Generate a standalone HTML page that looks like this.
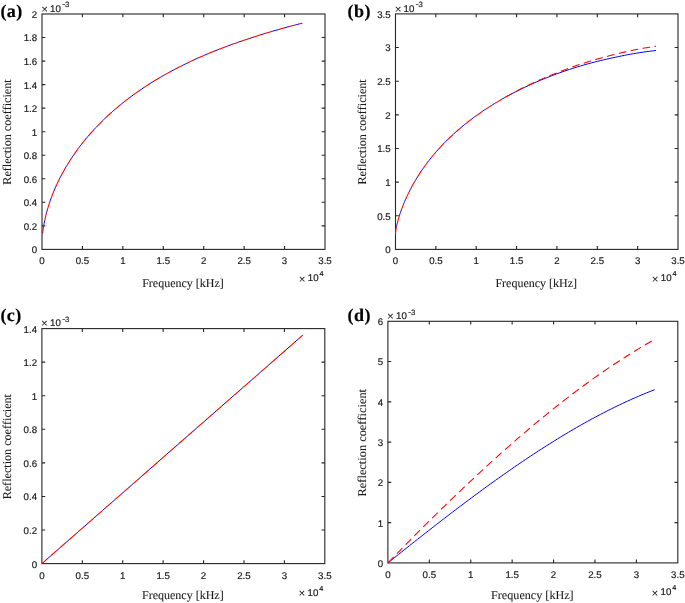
<!DOCTYPE html>
<html><head><meta charset="utf-8"><style>
html,body{margin:0;padding:0;background:#fff;width:685px;height:603px;overflow:hidden}
svg{display:block;will-change:transform}
text{text-rendering:geometricPrecision}
.ax{fill:none;stroke:#262626;stroke-width:1.1}
.bl{fill:none;stroke:#0000ff;stroke-width:1.0}
.rd{fill:none;stroke:#ff0000;stroke-width:1.05}
.tl,.tm,.ts,.t4,.tsm{font-family:"Liberation Sans",sans-serif;font-kerning:none;fill:#1e1e1e;stroke:#1e1e1e;stroke-width:0.2}
.tl{font-size:9.7px}
.tm{font-size:11.64px;fill:#2a2a2a;stroke:none}
.ts{font-size:7.76px}
.t4{font-size:7.275px}
.tsm{font-size:10px;stroke-width:0.1}
.al{font-family:"Liberation Serif",serif;font-kerning:none;font-size:12px;fill:#1a1a1a;stroke:#1a1a1a;stroke-width:0.08}
.tg{font-family:"Liberation Serif",serif;font-kerning:none;font-weight:bold;font-size:18px;letter-spacing:0.45px;fill:#000;stroke:#000;stroke-width:0.2}
</style></head><body>
<svg width="685" height="603" viewBox="0 0 685 603">
<g><path class="ax" d="M82.43 249.4v-3.3M82.43 14v3.3M122.86 249.4v-3.3M122.86 14v3.3M163.29 249.4v-3.3M163.29 14v3.3M203.71 249.4v-3.3M203.71 14v3.3M244.14 249.4v-3.3M244.14 14v3.3M284.57 249.4v-3.3M284.57 14v3.3M42 225.86h3.3M325 225.86h-3.3M42 202.32h3.3M325 202.32h-3.3M42 178.78h3.3M325 178.78h-3.3M42 155.24h3.3M325 155.24h-3.3M42 131.7h3.3M325 131.7h-3.3M42 108.16h3.3M325 108.16h-3.3M42 84.62h3.3M325 84.62h-3.3M42 61.08h3.3M325 61.08h-3.3M42 37.54h3.3M325 37.54h-3.3"/>
<rect class="ax" x="42" y="14" width="283" height="235.4"/>
<path class="bl" stroke-dasharray="5.05 7.1" stroke-dashoffset="-8" d="M42.6 233.3 L42.76 231.89 L42.94 230.49 L43.13 229.08 L43.35 227.67 L43.58 226.27 L43.83 224.86 L44.11 223.46 L44.39 222.06 L44.7 220.61 L45.03 219.07 L45.38 217.52 L45.74 215.96 L46.12 214.4 L46.52 212.83 L46.95 211.27 L47.38 209.69 L47.84 208.11 L48.32 206.53 L48.81 204.94 L49.33 203.36 L49.86 201.76 L50.41 200.17 L50.98 198.57 L51.57 196.97 L52.18 195.37 L52.8 193.77 L53.45 192.16 L54.11 190.56 L54.79 188.95 L55.49 187.34 L56.21 185.73 L56.95 184.12 L57.7 182.51 L58.48 180.9 L59.27 179.29 L60.08 177.68 L60.92 176.08 L61.77 174.47 L62.63 172.86 L63.52 171.26 L64.43 169.65 L65.35 168.05 L66.29 166.45 L67.26 164.85 L68.24 163.25 L69.23 161.66 L70.25 160.07 L71.29 158.48 L72.34 156.89 L73.42 155.31 L74.51 153.73 L75.62 152.15 L76.75 150.58 L77.9 149.01 L79.07 147.45 L80.25 145.88 L81.46 144.33 L82.68 142.77 L83.92 141.22 L85.18 139.68 L86.46 138.14 L87.76 136.61 L89.07 135.08 L90.41 133.55 L91.76 132.03 L93.14 130.52 L94.53 129.01 L95.94 127.51 L97.36 126.01 L98.81 124.52 L100.28 123.04 L101.76 121.56 L103.26 120.09 L104.79 118.62 L106.33 117.16 L107.89 115.71 L109.46 114.26 L111.06 112.82 L112.67 111.39 L114.31 109.96 L115.96 108.54 L117.63 107.13 L119.32 105.72 L121.03 104.33 L122.76 102.94 L124.5 101.55 L126.27 100.18 L128.05 98.81 L129.85 97.45 L131.67 96.1 L133.51 94.75 L135.37 93.42 L137.25 92.09 L139.14 90.77 L141.05 89.46 L142.99 88.15 L144.94 86.86 L146.91 85.57 L148.9 84.29 L150.9 83.02 L152.93 81.76 L154.97 80.5 L157.04 79.26 L159.12 78.02 L161.22 76.79 L163.34 75.57 L165.47 74.36 L167.63 73.16 L169.81 71.96 L172 70.78 L174.21 69.6 L176.44 68.44 L178.69 67.28 L180.96 66.13 L183.25 64.99 L185.55 63.86 L187.88 62.74 L190.22 61.62 L192.58 60.52 L194.96 59.42 L197.36 58.34 L199.78 57.26 L202.22 56.19 L204.67 55.13 L207.15 54.08 L209.64 53.04 L212.15 52.01 L214.68 50.99 L217.23 49.98 L219.79 48.97 L222.38 47.98 L224.98 46.99 L227.61 46.02 L230.25 45.05 L232.91 44.09 L235.59 43.14 L238.29 42.2 L241 41.27 L243.74 40.35 L246.49 39.43 L249.26 38.53 L252.06 37.61 L254.87 36.69 L257.69 35.78 L260.54 34.87 L263.41 33.98 L266.29 33.09 L269.19 32.22 L272.12 31.35 L275.06 30.49 L278.02 29.64 L280.99 28.8 L283.99 27.96 L287 27.14 L290.04 26.32 L293.09 25.51 L296.16 24.71 L299.25 23.92 L302.36 23.14"/>
<path class="rd" stroke-dasharray="7.7 4.45" stroke-dashoffset="-0.6" d="M42.6 233.3 L42.76 231.89 L42.94 230.49 L43.13 229.08 L43.35 227.67 L43.58 226.27 L43.83 224.86 L44.11 223.46 L44.39 222.06 L44.7 220.61 L45.03 219.07 L45.38 217.52 L45.74 215.96 L46.12 214.4 L46.52 212.83 L46.95 211.27 L47.38 209.69 L47.84 208.11 L48.32 206.53 L48.81 204.94 L49.33 203.36 L49.86 201.76 L50.41 200.17 L50.98 198.57 L51.57 196.97 L52.18 195.37 L52.8 193.77 L53.45 192.16 L54.11 190.56 L54.79 188.95 L55.49 187.34 L56.21 185.73 L56.95 184.12 L57.7 182.51 L58.48 180.9 L59.27 179.29 L60.08 177.68 L60.92 176.08 L61.77 174.47 L62.63 172.86 L63.52 171.26 L64.43 169.65 L65.35 168.05 L66.29 166.45 L67.26 164.85 L68.24 163.25 L69.23 161.66 L70.25 160.07 L71.29 158.48 L72.34 156.89 L73.42 155.31 L74.51 153.73 L75.62 152.15 L76.75 150.58 L77.9 149.01 L79.07 147.45 L80.25 145.88 L81.46 144.33 L82.68 142.77 L83.92 141.22 L85.18 139.68 L86.46 138.14 L87.76 136.61 L89.07 135.08 L90.41 133.55 L91.76 132.03 L93.14 130.52 L94.53 129.01 L95.94 127.51 L97.36 126.01 L98.81 124.52 L100.28 123.04 L101.76 121.56 L103.26 120.09 L104.79 118.62 L106.33 117.16 L107.89 115.71 L109.46 114.26 L111.06 112.82 L112.67 111.39 L114.31 109.96 L115.96 108.54 L117.63 107.13 L119.32 105.72 L121.03 104.33 L122.76 102.94 L124.5 101.55 L126.27 100.18 L128.05 98.81 L129.85 97.45 L131.67 96.1 L133.51 94.75 L135.37 93.42 L137.25 92.09 L139.14 90.77 L141.05 89.46 L142.99 88.15 L144.94 86.86 L146.91 85.57 L148.9 84.29 L150.9 83.02 L152.93 81.76 L154.97 80.5 L157.04 79.26 L159.12 78.02 L161.22 76.79 L163.34 75.57 L165.47 74.36 L167.63 73.16 L169.81 71.96 L172 70.78 L174.21 69.6 L176.44 68.44 L178.69 67.28 L180.96 66.13 L183.25 64.99 L185.55 63.86 L187.88 62.74 L190.22 61.62 L192.58 60.52 L194.96 59.42 L197.36 58.34 L199.78 57.26 L202.22 56.19 L204.67 55.13 L207.15 54.08 L209.64 53.04 L212.15 52.01 L214.68 50.99 L217.23 49.98 L219.79 48.97 L222.38 47.98 L224.98 46.99 L227.61 46.02 L230.25 45.05 L232.91 44.09 L235.59 43.14 L238.29 42.2 L241 41.27 L243.74 40.35 L246.49 39.43 L249.26 38.53 L252.06 37.61 L254.87 36.69 L257.69 35.78 L260.54 34.87 L263.41 33.98 L266.29 33.09 L269.19 32.22 L272.12 31.35 L275.06 30.49 L278.02 29.64 L280.99 28.8 L283.99 27.96 L287 27.14 L290.04 26.32 L293.09 25.51 L296.16 24.71 L299.25 23.92 L302.36 23.14"/>
<text class="tl" x="42" y="263.9" text-anchor="middle">0</text>
<text class="tl" x="82.43" y="263.9" text-anchor="middle">0.5</text>
<text class="tl" x="122.86" y="263.9" text-anchor="middle">1</text>
<text class="tl" x="163.29" y="263.9" text-anchor="middle">1.5</text>
<text class="tl" x="203.71" y="263.9" text-anchor="middle">2</text>
<text class="tl" x="244.14" y="263.9" text-anchor="middle">2.5</text>
<text class="tl" x="284.57" y="263.9" text-anchor="middle">3</text>
<text class="tl" x="325" y="263.9" text-anchor="middle">3.5</text>
<text class="tl" x="37.15" y="253.3" text-anchor="end">0</text>
<text class="tl" x="37.15" y="229.76" text-anchor="end">0.2</text>
<text class="tl" x="37.15" y="206.22" text-anchor="end">0.4</text>
<text class="tl" x="37.15" y="182.68" text-anchor="end">0.6</text>
<text class="tl" x="37.15" y="159.14" text-anchor="end">0.8</text>
<text class="tl" x="37.15" y="135.6" text-anchor="end">1</text>
<text class="tl" x="37.15" y="112.06" text-anchor="end">1.2</text>
<text class="tl" x="37.15" y="88.52" text-anchor="end">1.4</text>
<text class="tl" x="37.15" y="64.98" text-anchor="end">1.6</text>
<text class="tl" x="37.15" y="41.44" text-anchor="end">1.8</text>
<text class="tl" x="37.15" y="17.9" text-anchor="end">2</text>
<text class="tm" x="41.15" y="12.7">&#215;</text>
<text class="tl" x="50.1" y="11.8">10</text>
<text class="tsm" x="62.06" y="7.46">-</text>
<text class="ts" x="65.05" y="7.2">3</text>
<text class="tm" x="298.8" y="282.6">&#215;</text>
<text class="tl" x="307.8" y="281.4">10</text>
<text class="t4" x="319.45" y="276.2">4</text>
<text class="al" x="183" y="287.3" text-anchor="middle">Frequency [kHz]</text>
<text class="al" text-anchor="middle" transform="translate(10.9 132) rotate(-90) scale(1.01 1)">Reflection coefficient</text>
<text class="tg" x="0.4" y="16.9">(a)</text></g>
<g><path class="ax" d="M435.86 249.4v-3.3M435.86 13.9v3.3M476.21 249.4v-3.3M476.21 13.9v3.3M516.57 249.4v-3.3M516.57 13.9v3.3M556.93 249.4v-3.3M556.93 13.9v3.3M597.29 249.4v-3.3M597.29 13.9v3.3M637.64 249.4v-3.3M637.64 13.9v3.3M395.5 215.76h3.3M678 215.76h-3.3M395.5 182.11h3.3M678 182.11h-3.3M395.5 148.47h3.3M678 148.47h-3.3M395.5 114.83h3.3M678 114.83h-3.3M395.5 81.19h3.3M678 81.19h-3.3M395.5 47.54h3.3M678 47.54h-3.3"/>
<rect class="ax" x="395.5" y="13.9" width="282.5" height="235.5"/>
<path class="bl" stroke-dasharray="5.05 7.1" stroke-dashoffset="-7.7" d="M395.5 234.5 L395.51 233.81 L395.54 233.08 L395.59 232.33 L395.66 231.54 L395.76 230.73 L395.87 229.89 L396 229.02 L396.16 228.13 L396.33 227.22 L396.53 226.29 L396.75 225.34 L396.98 224.36 L397.24 223.37 L397.52 222.36 L397.82 221.18 L398.14 219.99 L398.48 218.77 L398.84 217.53 L399.22 216.26 L399.62 214.98 L400.04 213.68 L400.49 212.36 L400.95 211.02 L401.44 209.67 L401.94 208.3 L402.47 206.91 L403.01 205.51 L403.58 204.1 L404.17 202.68 L404.78 201.24 L405.4 199.8 L406.05 198.34 L406.72 196.88 L407.41 195.4 L408.12 193.92 L408.86 192.44 L409.61 190.94 L410.38 189.44 L411.18 187.94 L411.99 186.43 L412.82 184.91 L413.68 183.4 L414.56 181.88 L415.45 180.35 L416.37 178.83 L417.31 177.3 L418.27 175.78 L419.24 174.25 L420.24 172.72 L421.26 171.2 L422.31 169.67 L423.37 168.14 L424.45 166.62 L425.55 165.1 L426.68 163.58 L427.82 162.06 L428.98 160.55 L430.17 159.04 L431.38 157.53 L432.6 156.03 L433.85 154.53 L435.12 153.03 L436.4 151.54 L437.71 150.05 L439.04 148.57 L440.39 147.1 L441.76 145.63 L443.15 144.16 L444.57 142.7 L446 141.25 L447.45 139.8 L448.93 138.36 L450.42 136.93 L451.94 135.5 L453.47 134.08 L455.03 132.67 L456.6 131.26 L458.2 129.86 L459.82 128.47 L461.46 127.09 L463.12 125.71 L464.8 124.34 L466.5 122.98 L468.22 121.62 L469.96 120.28 L471.72 118.94 L473.51 117.61 L475.31 116.29 L477.13 114.98 L478.98 113.67 L480.84 112.38 L482.73 111.09 L484.64 109.81 L486.56 108.54 L488.51 107.28 L490.48 106.03 L492.47 104.78 L494.48 103.55 L496.51 102.32 L498.56 101.1 L500.63 99.9 L502.72 98.7 L504.84 97.51 L506.97 96.33"/>
<path class="bl" d="M506.97 96.33 L509.12 95.16 L511.3 94 L513.49 92.85 L515.71 91.71 L517.95 90.58 L520.2 89.46 L522.48 88.35 L524.78 87.25 L527.1 86.16 L529.44 85.08 L531.8 84.01 L534.18 82.95 L536.58 81.9 L539 80.87 L541.44 79.84 L543.91 78.83 L546.39 77.83 L548.89 76.84 L551.42 75.86 L553.96 74.89 L556.53 73.94 L559.12 73 L561.73 72.07 L564.35 71.16 L567 70.26 L569.67 69.37 L572.36 68.5 L575.07 67.64 L577.8 66.79 L580.55 65.96 L583.33 65.15 L586.12 64.35 L588.93 63.57 L591.77 62.8 L594.62 62.05 L597.5 61.32 L600.39 60.61 L603.31 59.91 L606.25 59.23 L609.2 58.57 L612.18 57.93 L615.18 57.3 L618.2 56.65 L621.24 56.01 L624.3 55.39 L627.38 54.79 L630.49 54.22 L633.61 53.67 L636.75 53.14 L639.92 52.64 L643.1 52.16 L646.31 51.7 L649.53 51.28 L652.78 50.88 L656.05 50.5"/>
<path class="rd" stroke-dasharray="7.7 4.45" stroke-dashoffset="-0.3" d="M395.5 234.5 L395.51 233.84 L395.54 233.14 L395.59 232.41 L395.66 231.65 L395.76 230.85 L395.87 230.03 L396 229.17 L396.16 228.29 L396.33 227.39 L396.53 226.46 L396.75 225.51 L396.98 224.53 L397.24 223.54 L397.52 222.52 L397.82 221.35 L398.14 220.15 L398.48 218.92 L398.84 217.67 L399.22 216.4 L399.62 215.11 L400.04 213.79 L400.49 212.46 L400.95 211.11 L401.44 209.75 L401.94 208.37 L402.47 206.97 L403.01 205.56 L403.58 204.14 L404.17 202.7 L404.78 201.26 L405.4 199.8 L406.05 198.33 L406.72 196.86 L407.41 195.38 L408.12 193.89 L408.86 192.39 L409.61 190.89 L410.38 189.38 L411.18 187.87 L411.99 186.35 L412.82 184.83 L413.68 183.31 L414.56 181.79 L415.45 180.26 L416.37 178.74 L417.31 177.21 L418.27 175.68 L419.24 174.15 L420.24 172.63 L421.26 171.1 L422.31 169.58 L423.37 168.05 L424.45 166.53 L425.55 165.02 L426.68 163.5 L427.82 161.99 L428.98 160.48 L430.17 158.98 L431.38 157.47 L432.6 155.98 L433.85 154.49 L435.12 153 L436.4 151.52 L437.71 150.04 L439.04 148.57 L440.39 147.1 L441.76 145.64 L443.15 144.19 L444.57 142.74 L446 141.29 L447.45 139.86 L448.93 138.43 L450.42 137 L451.94 135.58 L453.47 134.17 L455.03 132.77 L456.6 131.37 L458.2 129.98 L459.82 128.59 L461.46 127.22 L463.12 125.84 L464.8 124.48 L466.5 123.12 L468.22 121.78 L469.96 120.43 L471.72 119.1 L473.51 117.77 L475.31 116.45 L477.13 115.13 L478.98 113.83 L480.84 112.53 L482.73 111.24 L484.64 109.95 L486.56 108.67 L488.51 107.4 L490.48 106.14 L492.47 104.88 L494.48 103.63 L496.51 102.39 L498.56 101.16 L500.63 99.93 L502.72 98.71 L504.84 97.5 L506.97 96.3 L509.12 95.1 L511.3 93.91 L513.49 92.73 L515.71 91.56 L517.95 90.39 L520.2 89.24 L522.48 88.09 L524.78 86.95 L527.1 85.81 L529.44 84.69 L531.8 83.57 L534.18 82.46 L536.58 81.36 L539 80.27 L541.44 79.19 L543.91 78.12 L546.39 77.06 L548.89 76 L551.42 74.96 L553.96 73.93 L556.53 72.9 L559.12 71.89 L561.73 70.89 L564.35 69.9 L567 68.92 L569.67 67.95 L572.36 66.99 L575.07 66.05 L577.8 65.12 L580.55 64.2 L583.33 63.3 L586.12 62.4 L588.93 61.53 L591.77 60.67 L594.62 59.82 L597.5 58.99 L600.39 58.17 L603.31 57.37 L606.25 56.59 L609.2 55.83 L612.18 55.08 L615.18 54.35 L618.2 53.59 L621.24 52.84 L624.3 52.12 L627.38 51.41 L630.49 50.73 L633.61 50.07 L636.75 49.44 L639.92 48.83 L643.1 48.24 L646.31 47.68 L649.53 47.15 L652.78 46.64 L656.05 46.17"/>
<text class="tl" x="395.5" y="263.9" text-anchor="middle">0</text>
<text class="tl" x="435.86" y="263.9" text-anchor="middle">0.5</text>
<text class="tl" x="476.21" y="263.9" text-anchor="middle">1</text>
<text class="tl" x="516.57" y="263.9" text-anchor="middle">1.5</text>
<text class="tl" x="556.93" y="263.9" text-anchor="middle">2</text>
<text class="tl" x="597.29" y="263.9" text-anchor="middle">2.5</text>
<text class="tl" x="637.64" y="263.9" text-anchor="middle">3</text>
<text class="tl" x="678" y="263.9" text-anchor="middle">3.5</text>
<text class="tl" x="390.65" y="253.3" text-anchor="end">0</text>
<text class="tl" x="390.65" y="219.66" text-anchor="end">0.5</text>
<text class="tl" x="390.65" y="186.01" text-anchor="end">1</text>
<text class="tl" x="390.65" y="152.37" text-anchor="end">1.5</text>
<text class="tl" x="390.65" y="118.73" text-anchor="end">2</text>
<text class="tl" x="390.65" y="85.09" text-anchor="end">2.5</text>
<text class="tl" x="390.65" y="51.44" text-anchor="end">3</text>
<text class="tl" x="390.65" y="17.8" text-anchor="end">3.5</text>
<text class="tm" x="394.65" y="12.6">&#215;</text>
<text class="tl" x="403.6" y="11.7">10</text>
<text class="tsm" x="415.56" y="7.36">-</text>
<text class="ts" x="418.55" y="7.1">3</text>
<text class="tm" x="651.8" y="282.6">&#215;</text>
<text class="tl" x="660.8" y="281.4">10</text>
<text class="t4" x="672.45" y="276.2">4</text>
<text class="al" x="536.25" y="287.3" text-anchor="middle">Frequency [kHz]</text>
<text class="al" text-anchor="middle" transform="translate(365.9 131.95) rotate(-90) scale(1.01 1)">Reflection coefficient</text>
<text class="tg" x="347.6" y="16.9">(b)</text></g>
<g><path class="ax" d="M82.31 563.6v-3.3M82.31 328.6v3.3M122.73 563.6v-3.3M122.73 328.6v3.3M163.14 563.6v-3.3M163.14 328.6v3.3M203.56 563.6v-3.3M203.56 328.6v3.3M243.97 563.6v-3.3M243.97 328.6v3.3M284.39 563.6v-3.3M284.39 328.6v3.3M41.9 530.03h3.3M324.8 530.03h-3.3M41.9 496.46h3.3M324.8 496.46h-3.3M41.9 462.89h3.3M324.8 462.89h-3.3M41.9 429.31h3.3M324.8 429.31h-3.3M41.9 395.74h3.3M324.8 395.74h-3.3M41.9 362.17h3.3M324.8 362.17h-3.3"/>
<rect class="ax" x="41.9" y="328.6" width="282.9" height="235"/>
<path class="bl" stroke-dasharray="5.07 7.1" stroke-dashoffset="-7.5" d="M41.9 563.6 L302.7 335.2"/>
<path class="rd" stroke-dasharray="7.7 4.47" stroke-dashoffset="-0.1" d="M41.9 563.6 L302.7 335.2"/>
<text class="tl" x="41.9" y="578.5" text-anchor="middle">0</text>
<text class="tl" x="82.31" y="578.5" text-anchor="middle">0.5</text>
<text class="tl" x="122.73" y="578.5" text-anchor="middle">1</text>
<text class="tl" x="163.14" y="578.5" text-anchor="middle">1.5</text>
<text class="tl" x="203.56" y="578.5" text-anchor="middle">2</text>
<text class="tl" x="243.97" y="578.5" text-anchor="middle">2.5</text>
<text class="tl" x="284.39" y="578.5" text-anchor="middle">3</text>
<text class="tl" x="324.8" y="578.5" text-anchor="middle">3.5</text>
<text class="tl" x="37.05" y="567.5" text-anchor="end">0</text>
<text class="tl" x="37.05" y="533.93" text-anchor="end">0.2</text>
<text class="tl" x="37.05" y="500.36" text-anchor="end">0.4</text>
<text class="tl" x="37.05" y="466.79" text-anchor="end">0.6</text>
<text class="tl" x="37.05" y="433.21" text-anchor="end">0.8</text>
<text class="tl" x="37.05" y="399.64" text-anchor="end">1</text>
<text class="tl" x="37.05" y="366.07" text-anchor="end">1.2</text>
<text class="tl" x="37.05" y="332.5" text-anchor="end">1.4</text>
<text class="tm" x="41.05" y="327.3">&#215;</text>
<text class="tl" x="50" y="326.4">10</text>
<text class="tsm" x="61.96" y="322.06">-</text>
<text class="ts" x="64.95" y="321.8">3</text>
<text class="tm" x="298.6" y="597.2">&#215;</text>
<text class="tl" x="307.6" y="596">10</text>
<text class="t4" x="319.25" y="590.8">4</text>
<text class="al" x="182.85" y="599.3" text-anchor="middle">Frequency [kHz]</text>
<text class="al" text-anchor="middle" transform="translate(10.9 446.7) rotate(-90) scale(1.01 1)">Reflection coefficient</text>
<text class="tg" x="0.4" y="320.9">(c)</text></g>
<g><path class="ax" d="M429.31 562.9v-3.3M429.31 321.3v3.3M470.73 562.9v-3.3M470.73 321.3v3.3M512.14 562.9v-3.3M512.14 321.3v3.3M553.56 562.9v-3.3M553.56 321.3v3.3M594.97 562.9v-3.3M594.97 321.3v3.3M636.39 562.9v-3.3M636.39 321.3v3.3M387.9 522.63h3.3M677.8 522.63h-3.3M387.9 482.37h3.3M677.8 482.37h-3.3M387.9 442.1h3.3M677.8 442.1h-3.3M387.9 401.83h3.3M677.8 401.83h-3.3M387.9 361.57h3.3M677.8 361.57h-3.3"/>
<rect class="ax" x="387.9" y="321.3" width="289.9" height="241.6"/>
<path class="bl" d="M387.9 562.9 L390.59 560.74 L393.29 558.58 L395.98 556.43 L398.68 554.27 L401.37 552.13 L404.06 549.98 L406.76 547.84 L409.45 545.7 L412.15 543.56 L414.84 541.43 L417.53 539.3 L420.23 537.18 L422.92 535.06 L425.62 532.94 L428.31 530.83 L431 528.73 L433.7 526.63 L436.39 524.53 L439.09 522.45 L441.78 520.36 L444.47 518.29 L447.17 516.21 L449.86 514.15 L452.56 512.09 L455.25 510.04 L457.94 508 L460.64 505.96 L463.33 503.93 L466.03 501.9 L468.72 499.89 L471.41 497.88 L474.11 495.88 L476.8 493.89 L479.5 491.91 L482.19 489.93 L484.88 487.96 L487.58 486.01 L490.27 484.06 L492.97 482.12 L495.66 480.19 L498.35 478.27 L501.05 476.36 L503.74 474.46 L506.44 472.57 L509.13 470.69 L511.82 468.82 L514.52 466.96 L517.21 465.11 L519.91 463.28 L522.6 461.45 L525.3 459.64 L527.99 457.84 L530.68 456.05 L533.38 454.27 L536.07 452.5 L538.77 450.75 L541.46 449.01 L544.15 447.28 L546.85 445.56 L549.54 443.86 L552.24 442.17 L554.93 440.5 L557.62 438.84 L560.32 437.19 L563.01 435.55 L565.71 433.93 L568.4 432.33 L571.09 430.74 L573.79 429.16 L576.48 427.6 L579.18 426.06 L581.87 424.53 L584.56 423.01 L587.26 421.51 L589.95 420.03 L592.65 418.56 L595.34 417.11 L598.03 415.68 L600.73 414.26 L603.42 412.86 L606.12 411.48 L608.81 410.11 L611.5 408.76 L614.2 407.43 L616.89 406.12 L619.59 404.82 L622.28 403.54 L624.97 402.28 L627.67 401.04 L630.36 399.82 L633.06 398.62 L635.75 397.43 L638.44 396.27 L641.14 395.12 L643.83 394 L646.53 392.89 L649.22 391.81 L651.91 390.74 L654.61 389.7"/>
<path class="rd" stroke-dasharray="7.9 4.6" stroke-dashoffset="-0.4" d="M387.9 562.9 L390.59 560.12 L393.29 557.36 L395.98 554.59 L398.68 551.84 L401.37 549.09 L404.06 546.34 L406.76 543.61 L409.45 540.88 L412.15 538.16 L414.84 535.44 L417.53 532.73 L420.23 530.03 L422.92 527.34 L425.62 524.66 L428.31 521.98 L431 519.31 L433.7 516.65 L436.39 514 L439.09 511.35 L441.78 508.72 L444.47 506.09 L447.17 503.47 L449.86 500.86 L452.56 498.26 L455.25 495.67 L457.94 493.09 L460.64 490.52 L463.33 487.96 L466.03 485.41 L468.72 482.87 L471.41 480.33 L474.11 477.81 L476.8 475.3 L479.5 472.8 L482.19 470.31 L484.88 467.83 L487.58 465.36 L490.27 462.91 L492.97 460.46 L495.66 458.03 L498.35 455.6 L501.05 453.19 L503.74 450.79 L506.44 448.4 L509.13 446.03 L511.82 443.66 L514.52 441.31 L517.21 438.97 L519.91 436.65 L522.6 434.34 L525.3 432.03 L527.99 429.75 L530.68 427.47 L533.38 425.21 L536.07 422.96 L538.77 420.73 L541.46 418.51 L544.15 416.3 L546.85 414.11 L549.54 411.93 L552.24 409.77 L554.93 407.62 L557.62 405.48 L560.32 403.36 L563.01 401.26 L565.71 399.16 L568.4 397.09 L571.09 395.03 L573.79 392.98 L576.48 390.95 L579.18 388.94 L581.87 386.94 L584.56 384.96 L587.26 382.99 L589.95 381.04 L592.65 379.11 L595.34 377.19 L598.03 375.29 L600.73 373.41 L603.42 371.54 L606.12 369.69 L608.81 367.86 L611.5 366.04 L614.2 364.24 L616.89 362.46 L619.59 360.7 L622.28 358.95 L624.97 357.22 L627.67 355.52 L630.36 353.83 L633.06 352.15 L635.75 350.5 L638.44 348.86 L641.14 347.25 L643.83 345.65 L646.53 344.07 L649.22 342.51 L651.91 340.97 L654.61 339.45"/>
<text class="tl" x="387.9" y="577.8" text-anchor="middle">0</text>
<text class="tl" x="429.31" y="577.8" text-anchor="middle">0.5</text>
<text class="tl" x="470.73" y="577.8" text-anchor="middle">1</text>
<text class="tl" x="512.14" y="577.8" text-anchor="middle">1.5</text>
<text class="tl" x="553.56" y="577.8" text-anchor="middle">2</text>
<text class="tl" x="594.97" y="577.8" text-anchor="middle">2.5</text>
<text class="tl" x="636.39" y="577.8" text-anchor="middle">3</text>
<text class="tl" x="677.8" y="577.8" text-anchor="middle">3.5</text>
<text class="tl" x="383.05" y="566.8" text-anchor="end">0</text>
<text class="tl" x="383.05" y="526.53" text-anchor="end">1</text>
<text class="tl" x="383.05" y="486.27" text-anchor="end">2</text>
<text class="tl" x="383.05" y="446" text-anchor="end">3</text>
<text class="tl" x="383.05" y="405.73" text-anchor="end">4</text>
<text class="tl" x="383.05" y="365.47" text-anchor="end">5</text>
<text class="tl" x="383.05" y="325.2" text-anchor="end">6</text>
<text class="tm" x="387.05" y="320">&#215;</text>
<text class="tl" x="396" y="319.1">10</text>
<text class="tsm" x="407.96" y="314.76">-</text>
<text class="ts" x="410.95" y="314.5">3</text>
<text class="tm" x="651.6" y="596.5">&#215;</text>
<text class="tl" x="660.6" y="595.3">10</text>
<text class="t4" x="672.25" y="590.1">4</text>
<text class="al" text-anchor="middle" transform="translate(532.35 599.3) scale(1.012 1)">Frequency [kHz]</text>
<text class="al" text-anchor="middle" transform="translate(365.9 442.7) rotate(-90) scale(1.03 1)">Reflection coefficient</text>
<text class="tg" x="347.6" y="320.9">(d)</text></g>
</svg>
</body></html>
